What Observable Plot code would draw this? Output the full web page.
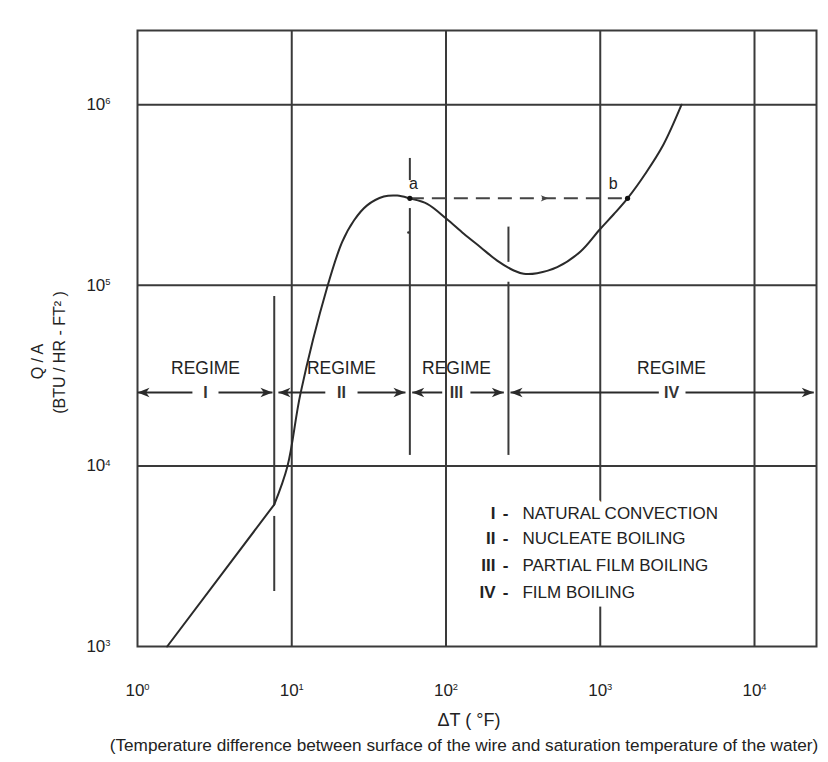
<!DOCTYPE html>
<html><head><meta charset="utf-8">
<script src="https://cdn.jsdelivr.net/npm/d3@7"></script>
<script src="https://cdn.jsdelivr.net/npm/@observablehq/plot@0.6"></script>
<style>body{margin:0;background:#fff;}</style>
</head><body><div id="chart"></div>
<script>
// ---- data ----
const xTicks = [1, 10, 100, 1000, 10000];
const yTicks = [1000, 10000, 100000, 1000000];
const xGrid = [10, 100, 1000, 10000];
const yGrid = [10000, 100000, 1000000];

// Regime I: natural convection (straight segment)
const naturalDT = [1.557, 7.7];
const naturalQA = [1000, 6110];
// Regimes II-IV: boiling curve
const boilingDT = [7.7, 9.39, 11.4, 16.97, 21.2, 25.3, 30.8, 39.5, 48.3, 58.3, 75.5, 100.7, 130.4, 167.4, 214.6, 275, 319, 390, 526, 745, 993, 1219, 1503, 1965, 2570, 3365];
const boilingQA = [6110, 10000, 25200, 97500, 173300, 228500, 277000, 310000, 314000, 303000, 282500, 233500, 192800, 162500, 137000, 120800, 115900, 116700, 126000, 153900, 203800, 246600, 303000, 416000, 602000, 1000000];

// points a and b (burnout jump)
const pointNames = ["a", "b"];
const pointDT = [58.3, 1503];
const pointQA = [303000, 303000];
const pointLabelDT = [61.5, 1213];
const pointLabelQA = [366000, 366000];
const jumpArrowDT = [463];
const smallMarkDT = [57.1];
const smallMarkQA = [196000];

// regime separators (vertical strokes)
const sepDT  = [7.7, 7.7, 58.3, 58.3, 254, 254];
const sepQA1 = [86700, 2016, 504000, 11430, 210000, 11430];
const sepQA2 = [6110, 5250, 380000, 266000, 134000, 104000];

// regime arrows
const regimeNames = ["I", "II", "III", "IV"];
const regimeFrom = [1, 8.2, 60.4, 262];
const regimeTo = [7.5, 54.6, 237, 24220];
const gapFrom = [2.27, 16.5, 94.5, 2397];
const gapTo = [3.35, 26.7, 144, 3570];
const regimeLabelDT = [2.76, 21.0, 117, 2897];
const regimeArrowQA = [25500, 25500, 25500, 25500];
const regimeTitleQA = [34600, 34600, 34600, 34600];

// legend
const legendNumerals = ["I", "II", "III", "IV"];
const legendNames = ["NATURAL CONVECTION", "NUCLEATE BOILING", "PARTIAL FILM BOILING", "FILM BOILING"];
const legendQA = [5430, 3945, 2808, 1999];
const legendNumeralDT = [209.4, 209.4, 209.4, 209.4];
const legendDashDT = [243, 243, 243, 243];
const legendNameDT = [313, 313, 313, 313];

// text
const xTitle = "\u0394T ( \u00B0F)";
const xSubtitle = "(Temperature difference between surface of the wire and saturation temperature of the water)";
const yTitle1 = "Q / A";
const yTitle2 = "(BTU / HR - FT\u00B2 )";

// ---- drawing ----
const sup = ["\u2070", "\u00B9", "\u00B2", "\u00B3", "\u2074", "\u2075", "\u2076"];
const powFmt = d => "10" + sup[Math.round(Math.log10(d))];
const ink = "#2a2a2a";
const gridInk = "#3a3a3a";

const arrowHead = {
  draw(ctx, size) {
    const r = Math.sqrt(size / Math.PI);
    const L = r * 2.4, w = r * 0.95;
    ctx.moveTo(0, 0);
    ctx.lineTo(w, L);
    ctx.lineTo(0, L * 0.72);
    ctx.lineTo(-w, L);
    ctx.closePath();
  }
};

const idx4 = [0, 1, 2, 3];

const chart = Plot.plot({
  width: 828,
  height: 762,
  marginTop: 30,
  marginLeft: 137,
  marginRight: 12,
  marginBottom: 116,
  x: {type: "log", domain: [1, 25230]},
  y: {type: "log", domain: [1000, 2576000]},
  style: {fontFamily: '"Liberation Sans", Arial, sans-serif', fontSize: "15px", color: "#222", background: "white"},
  marks: [
    Plot.ruleX(xGrid, {stroke: gridInk, strokeWidth: 2}),
    Plot.ruleY(yGrid, {stroke: gridInk, strokeWidth: 2}),
    Plot.frame({stroke: gridInk, strokeWidth: 2}),
    // separators
    Plot.ruleX(sepDT, {x: sepDT, y1: sepQA1, y2: sepQA2, stroke: gridInk, strokeWidth: 2}),
    // curve
    Plot.line(naturalDT, {x: naturalDT, y: naturalQA, stroke: ink, strokeWidth: 2}),
    Plot.line(boilingDT, {x: boilingDT, y: boilingQA, stroke: ink, strokeWidth: 2, curve: "catmull-rom"}),
    // dashed jump a -> b
    Plot.link([0], {x1: [pointDT[0]], x2: [pointDT[1]], y1: [pointQA[0]], y2: [pointQA[1]], stroke: "#444", strokeWidth: 2, strokeDasharray: "14,8"}),
    Plot.dot(jumpArrowDT, {x: jumpArrowDT, y: [pointQA[0]], symbol: arrowHead, r: 3.3, rotate: 90, fill: "#444"}),
    Plot.dot(pointNames, {x: pointDT, y: pointQA, r: 2.6, fill: "#111"}),
    Plot.text(pointNames, {x: pointLabelDT, y: pointLabelQA, text: pointNames, fontSize: 16, fill: "#222"}),
    Plot.dot(smallMarkDT, {x: smallMarkDT, y: smallMarkQA, r: 1.3, fill: "#333"}),
    // regime arrows
    Plot.link(idx4, {x1: gapFrom, x2: regimeFrom, y1: regimeArrowQA, y2: regimeArrowQA, stroke: ink, strokeWidth: 2}),
    Plot.link(idx4, {x1: gapTo, x2: regimeTo, y1: regimeArrowQA, y2: regimeArrowQA, stroke: ink, strokeWidth: 2}),
    Plot.dot(idx4, {x: regimeFrom, y: regimeArrowQA, symbol: arrowHead, r: 5, rotate: -90, fill: ink}),
    Plot.dot(idx4, {x: regimeTo, y: regimeArrowQA, symbol: arrowHead, r: 5, rotate: 90, fill: ink}),
    Plot.text(regimeNames, {x: regimeLabelDT, y: regimeArrowQA, text: regimeNames, fontSize: 16, fontWeight: "bold", fill: "#333"}),
    Plot.text(regimeNames, {x: regimeLabelDT, y: regimeTitleQA, text: () => "REGIME", fontSize: 17.5, fill: "#222"}),
    // legend
    Plot.text(legendNames, {x: legendNameDT, y: legendQA, text: legendNames, textAnchor: "start", fontSize: 17, fill: "#222", stroke: "white", strokeWidth: 17}),
    Plot.text(legendNumerals, {x: legendNumeralDT, y: legendQA, text: legendNumerals, textAnchor: "end", fontSize: 17, fontWeight: "bold", fill: "#222"}),
    Plot.text(legendNumerals, {x: legendDashDT, y: legendQA, text: () => "-", fontSize: 17, fontWeight: "bold", fill: "#222"}),
    // axes
    Plot.axisX({ticks: xTicks, tickFormat: powFmt, tickSize: 0, tickPadding: 37, label: null}),
    Plot.axisY({ticks: yTicks, tickFormat: powFmt, tickSize: 0, tickPadding: 27, label: null}),
    // titles
    Plot.text([xTitle], {frameAnchor: "bottom", textAnchor: "middle", lineAnchor: "middle", dx: -8, dy: 74, fontSize: 18, fill: "#222"}),
    Plot.text([xSubtitle], {frameAnchor: "bottom", textAnchor: "middle", lineAnchor: "middle", dx: -13, dy: 99, fontSize: 17.2, fill: "#222"}),
    Plot.text([yTitle1], {frameAnchor: "left", textAnchor: "middle", lineAnchor: "middle", rotate: -90, dx: -100, dy: 23, fontSize: 16, fill: "#222"}),
    Plot.text([yTitle2], {frameAnchor: "left", textAnchor: "middle", lineAnchor: "middle", rotate: -90, dx: -78, dy: 14, fontSize: 16, fill: "#222"})
  ]
});

// render the exponent of each power-of-ten tick label as a raised, small tspan
const svgNS = "http://www.w3.org/2000/svg";
chart.querySelectorAll('g[aria-label="x-axis tick label"], g[aria-label="y-axis tick label"]').forEach(g => {
  g.setAttribute("font-size", "17");
  g.style.fontSize = "17px";
  g.setAttribute("fill", "#222");
});
chart.querySelectorAll('g[aria-label="x-axis tick label"] text, g[aria-label="y-axis tick label"] text').forEach(t => {
  const s = t.textContent;
  const k = sup.indexOf(s.slice(2));
  t.style.fontSize = "17px";
  if (s.startsWith("10") && k >= 0) {
    t.textContent = "10";
    const ts = document.createElementNS(svgNS, "tspan");
    ts.setAttribute("font-size", "0.55em");
    ts.setAttribute("dy", "-0.62em");
    ts.textContent = String(k);
    t.appendChild(ts);
  }
});
document.getElementById("chart").appendChild(chart);
</script>
</body></html>
